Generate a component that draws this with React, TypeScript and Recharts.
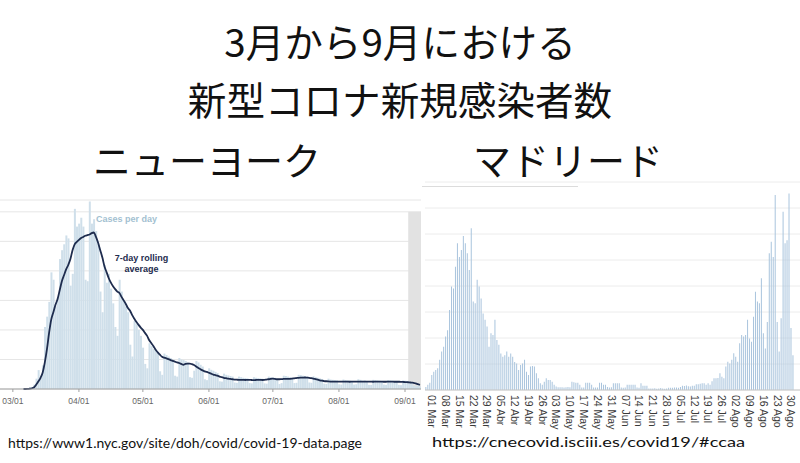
import { ComposedChart, BarChart, Bar, Line, XAxis, YAxis, CartesianGrid, ReferenceArea } from 'recharts';

// ニューヨーク: 2/24〜9/8 の日別新規感染者数（Cases per day）
const nycCases = [
  0, 0, 0, 0, 0, 1,
  1, 0, 3, 4, 5, 8, 7,
  21, 57, 70, 150, 350, 640, 400,
  800, 2100, 2450, 2950, 3950, 3700, 2800,
  3100, 4400, 4700, 4900, 5200, 5100, 3500,
  3900, 6100, 5500, 5600, 5800, 5500, 3700,
  3650, 6350, 5600, 5750, 5350, 4900, 3300,
  2600, 4200, 3600, 3900, 3400, 2900, 2100,
  1800, 3700, 3300, 3000, 2800, 2600, 1500,
  1100, 2300, 2200, 2000, 1800, 1400, 850,
  700, 1550, 1450, 1350, 1300, 1250, 600,
  480, 1200, 1150, 1100, 1050, 1000, 450,
  420, 1050, 1000, 980, 950, 900, 400,
  380, 620, 950, 900, 820, 760, 330,
  300, 700, 650, 620, 580, 540, 260,
  250, 520, 480, 460, 440, 420, 220,
  210, 420, 400, 380, 370, 360, 200,
  190, 400, 380, 370, 360, 350, 190,
  180, 420, 400, 390, 380, 300, 170,
  200, 450, 440, 420, 400, 380, 200,
  210, 480, 470, 450, 440, 420, 220,
  210, 430, 400, 380, 360, 340, 180,
  170, 350, 320, 310, 300, 290, 160,
  150, 320, 300, 290, 280, 270, 150,
  160, 330, 310, 280, 290, 260, 140,
  140, 310, 300, 290, 280, 270, 150,
  140, 300, 290, 280, 270, 260, 140,
  130, 290, 280, 270, 240, 200, 110,
  90, 120, 80,
];

// 7-day rolling average
const nycAvg = [
  null, null, null, null, null, null, null, null, null, null, null,
  0, 0, 5, 10, 25, 60, 150, 260, 380,
  560, 900, 1350, 1900, 2350, 2600, 2850, 3050, 3350, 3650,
  3850, 4050, 4200, 4400, 4700, 4900, 4980, 5050, 5110, 5150,
  5190, 5210, 5230, 5280, 5300, 5150, 4950, 4700, 4450, 4150,
  3950, 3750, 3600, 3480, 3380, 3300, 3250, 3120, 3000, 2880,
  2740, 2650, 2500, 2380, 2270, 2170, 2080, 2000, 1900, 1800,
  1650, 1550, 1450, 1330, 1240, 1160, 1090, 1060, 1040, 1010,
  980, 950, 930, 900, 880, 850, 820, 850, 860, 860,
  840, 810, 760, 710, 670, 630, 600, 580, 550, 520,
  490, 470, 450, 420, 400, 380, 365, 350, 340, 330,
  320, 315, 310, 310, 310, 305, 310, 310, 305, 300, 305, 310, 310, 305, 310,
  320, 330, 345, 350, 340, 330, 330, 335, 340, 345,
  345, 345, 350, 360, 370, 380, 385, 385, 390, 385,
  380, 370, 355, 335, 315, 295, 280, 270, 262, 256, 252,
  250, 250, 248, 248, 250, 252, 250, 248, 246, 248, 250, 250, 252, 250, 248, 248,
  250, 250, 248, 246, 248, 250, 250, 248, 246, 246, 248, 250, 248, 246, 246, 245, 244,
  240, 235, 230, 225, 215, 210, 190, 165, 140,
];

const nycTicks = ['03/01', '04/01', '05/01', '06/01', '07/01', '08/01', '09/01'];
const nycGrid = [0, 1000, 2000, 3000, 4000, 5000, 6000];

// マドリード: 2/27〜8/31 の日別新規感染者数（9/1〜9/3 は空）
const madridCases = [
  60, 100, 140,
  290, 350, 385, 420, 580, 740, 830,
  1030, 1150, 1540, 1990, 1950, 2370, 2820,
  2560, 2690, 2960, 2820, 2630, 2310, 3110,
  1700, 1670, 2120, 1990, 1760, 1470, 1350,
  1220, 830, 1090, 1060, 1350, 960, 870,
  700, 640, 670, 740, 640, 700, 640,
  540, 510, 385, 480, 510, 580, 350,
  290, 450, 460, 450, 320, 225, 130,
  100, 160, 225, 190, 190, 160, 100,
  65, 55, 55, 55, 50, 55, 60,
  55, 160, 150, 140, 140, 100, 50,
  50, 140, 140, 140, 100, 50, 50,
  50, 140, 140, 100, 100, 60, 50,
  55, 130, 130, 130, 130, 50, 45,
  50, 100, 100, 100, 100, 100, 50,
  45, 130, 80, 80, 80, 30, 30,
  30, 35, 25, 30, 40, 30, 25,
  30, 45, 45, 45, 50, 50, 45,
  60, 80, 75, 85, 70, 65, 80,
  80, 110, 110, 120, 130, 130, 100,
  130, 100, 170, 225, 225, 230, 320,
  255, 225, 450, 545, 510, 580, 705,
  640, 545, 900, 1060, 1030, 1060, 1350,
  990, 930, 1410, 1890, 1700, 1670, 2150,
  1090, 800, 1310, 2630, 2850, 2560, 3750,
  1310, 740, 1380, 3430, 2820, 2880, 3780,
  1190, 670,
  null, null, null,
];

const madridTicks = [
  '01 Mar', '08 Mar', '15 Mar', '22 Mar', '29 Mar', '05 Abr', '12 Abr', '19 Abr', '26 Abr',
  '03 May', '10 May', '17 May', '24 May', '31 May', '07 Jun', '14 Jun', '21 Jun', '28 Jun',
  '05 Jul', '12 Jul', '19 Jul', '26 Jul', '02 Ago', '09 Ago', '16 Ago', '23 Ago', '30 Ago',
];
const madridGrid = [0, 500, 1000, 1500, 2000, 2500, 3000, 3500];

const MESES = ['Ene', 'Feb', 'Mar', 'Abr', 'May', 'Jun', 'Jul', 'Ago', 'Sep'];
const pad = (n: number) => String(n).padStart(2, '0');
const dayOf = (month: number, day: number, offset: number) => new Date(Date.UTC(2020, month, day + offset));

const nycData = nycCases.map((cases, i) => {
  const d = dayOf(1, 24, i);
  return { date: `${pad(d.getUTCMonth() + 1)}/${pad(d.getUTCDate())}`, cases, avg: nycAvg[i] };
});

const madridData = madridCases.map((cases, i) => {
  const d = dayOf(1, 27, i);
  return { date: `${pad(d.getUTCDate())} ${MESES[d.getUTCMonth()]}`, cases };
});

const JP = '"Noto Sans CJK JP", sans-serif';

// マドリードの縦書き日付ラベル
const RotatedTick = (props: any) => {
  const { x, y, payload } = props;
  return (
    <g transform={`translate(${x},${y})`}>
      <text transform="rotate(90)" dy="0.36em" textAnchor="start" fontSize={10.5}
        fontFamily="Liberation Sans, Arial, sans-serif" fill="#3a3a3a">
        {payload.value}
      </text>
    </g>
  );
};

export default function App() {
  return (
    <div style={{ position: 'absolute', left: 0, top: 0, width: 800, height: 463, background: '#fff', overflow: 'hidden' }}>
      {/* 左: ニューヨーク */}
      <div style={{ position: 'absolute', left: 0, top: 190, width: 422, height: 225, overflow: 'hidden' }}>
        <div style={{ position: 'absolute', left: -1, top: 0 }}>
          <ComposedChart width={422} height={221} data={nycData} barCategoryGap="14%"
            margin={{ top: 10, right: 0, bottom: 0, left: 0 }}>
            <CartesianGrid horizontal vertical={false} stroke="#e6e6e6" />
            <XAxis dataKey="date" ticks={nycTicks} interval={0} height={22}
              tickSize={3} tickMargin={6} stroke="#a0a0a0"
              tick={{ fontSize: 8.5, fill: '#666', fontFamily: 'Liberation Sans, Arial, sans-serif' }} />
            <YAxis hide domain={[0, 6400]} ticks={nycGrid} />
            <ReferenceArea x1="09/03" x2="09/08" y1={0} y2={6000} fill="#e2e2e2" fillOpacity={1} stroke="none" />
            <Bar dataKey="cases" fill="#cfdfea" isAnimationActive={false} />
            <Line dataKey="avg" type="monotone" stroke="#1e2c4e" strokeWidth={1.8} dot={false} isAnimationActive={false} />
          </ComposedChart>
        </div>
      </div>

      {/* 右: マドリード */}
      <div style={{ position: 'absolute', left: 420, top: 170 }}>
        <BarChart width={380} height={260} data={madridData} barCategoryGap="18%"
          margin={{ top: 12, right: 0, bottom: 0, left: 5 }}>
          <CartesianGrid horizontal vertical={false} stroke="#ececec" />
          <XAxis dataKey="date" ticks={madridTicks} interval={0} height={40}
            tickSize={0} tickMargin={5} stroke="#c8c8c8" tick={<RotatedTick />} />
          <YAxis hide domain={[0, 4000]} ticks={madridGrid} />
          <Bar dataKey="cases" fill="#a9c4dd" isAnimationActive={false} />
        </BarChart>
      </div>

      {/* テキスト */}
      <svg width={800} height={463} style={{ position: 'absolute', left: 0, top: 0, pointerEvents: 'none' }}>
        <text x={400} y={57} textAnchor="middle" fontSize={38.6} fontFamily={JP} fill="#111">3月から9月における</text>
        <text x={400} y={115} textAnchor="middle" fontSize={38.6} fontFamily={JP} fill="#111">新型コロナ新規感染者数</text>
        <text x={93} y={175} fontSize={38} fontFamily={JP} fill="#111">ニューヨーク</text>
        <text x={473} y={175} fontSize={38} fontFamily={JP} fill="#111">マドリード</text>
        <line x1={422} x2={578} y1={186.5} y2={186.5} stroke="#dcdcdc" strokeWidth={1} />

        <text x={96} y={221.5} fontSize={9} fontWeight="bold" fontFamily="Liberation Sans, Arial, sans-serif" fill="#a3bfd1">Cases per day</text>
        <text x={141.5} y={260.5} textAnchor="middle" fontSize={9} fontWeight="bold" fontFamily="Liberation Sans, Arial, sans-serif" fill="#1e2c4e">7-day rolling</text>
        <text x={141.5} y={272} textAnchor="middle" fontSize={9} fontWeight="bold" fontFamily="Liberation Sans, Arial, sans-serif" fill="#1e2c4e">average</text>

        <text x={8} y={448} fontSize={14} fontFamily="Lato, sans-serif" fill="#111" textLength={354} lengthAdjust="spacingAndGlyphs">https://www1.nyc.gov/site/doh/covid/covid-19-data.page</text>
        <text x={432} y={447} fontSize={14} fontFamily="Lato, sans-serif" fill="#111" textLength={313} lengthAdjust="spacingAndGlyphs">https://cnecovid.isciii.es/covid19/#ccaa</text>
      </svg>
    </div>
  );
}
